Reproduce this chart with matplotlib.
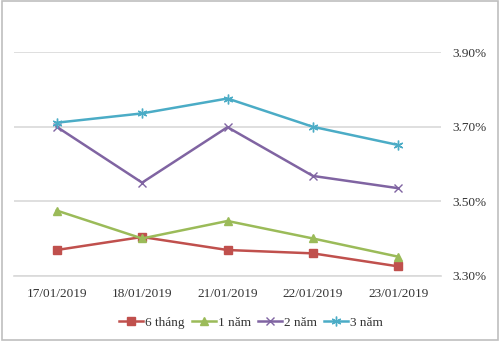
import matplotlib
matplotlib.use('Agg')
import matplotlib.pyplot as plt
from matplotlib.patches import Rectangle
from matplotlib.ticker import FuncFormatter

# du lieu lai suat
dates = ['17/01/2019', '18/01/2019', '21/01/2019', '22/01/2019', '23/01/2019']
thang6 = [3.369, 3.404, 3.369, 3.360, 3.325]
nam1 = [3.475, 3.400, 3.447, 3.400, 3.351]
nam2 = [3.700, 3.550, 3.699, 3.568, 3.535]
nam3 = [3.711, 3.736, 3.776, 3.700, 3.651]
labels = ['6 tháng', '1 năm', '2 năm', '3 năm']
yticks = [3.30, 3.50, 3.70, 3.90]

plt.rcParams['font.family'] = ['Liberation Serif', 'DejaVu Serif']

fig = plt.figure(figsize=(5, 3.41), dpi=100)
ax = fig.add_axes([0.028, 0.1915, 0.854, 0.655])

x = range(len(dates))
ax.plot(x, thang6, color='#C0504D', marker='s', markersize=6, lw=1.8, label=labels[0])
ax.plot(x, nam1, color='#9BBB59', marker='^', markersize=6, lw=1.8, label=labels[1])
ax.plot(x, nam2, color='#8064A2', marker='x', markersize=6, mew=1, lw=1.8, label=labels[2])
ax.plot(x, nam3, color='#4BACC6', marker=(6, 2, 0), markersize=7, mew=1, lw=1.8, label=labels[3])

ax.set_xlim(-0.5, len(dates) - 0.5)
ax.set_ylim(3.30, 3.90)
ax.set_xticks(list(x))
ax.set_xticklabels(dates, fontsize=9.5, color='#333333')
ax.set_yticks(yticks)
ax.yaxis.set_major_formatter(FuncFormatter(lambda v, p: '%.2f%%' % v))
ax.yaxis.tick_right()
ax.tick_params(axis='y', length=0, pad=8, labelsize=9.5, labelcolor='#333333')
ax.tick_params(axis='x', length=0, pad=9)
ax.grid(axis='y', color='#D9D9D9', lw=1.2)
ax.set_axisbelow(True)
for s in ['top', 'left', 'right']:
    ax.spines[s].set_visible(False)
ax.spines['bottom'].set_color('#D9D9D9')
ax.spines['bottom'].set_linewidth(1.2)

fig.legend(loc='center', bbox_to_anchor=(0.502, 0.053), ncol=4, frameon=False,
           fontsize=9.5, handlelength=1.8, handletextpad=0.15, columnspacing=0.55,
           labelcolor='#333333')

fig.patches.append(Rectangle((0.004, 0.004), 0.992, 0.992, transform=fig.transFigure,
                             fill=False, edgecolor='#BFBFBF', lw=1.2))

plt.savefig('out.png', dpi=100)
plt.close()
